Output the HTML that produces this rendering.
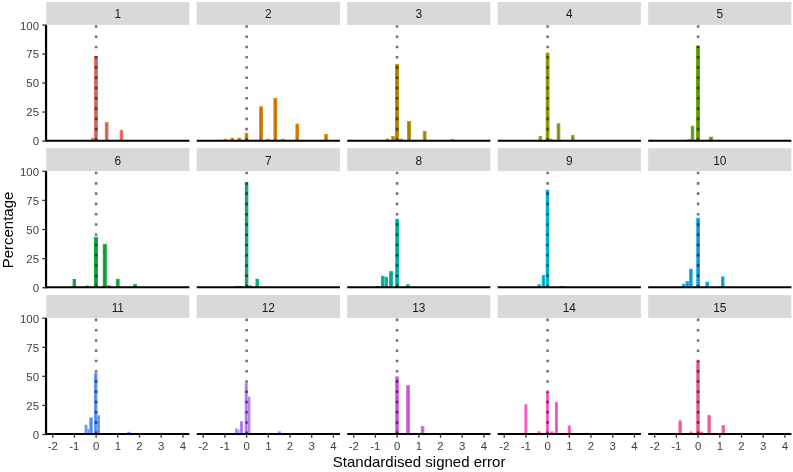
<!DOCTYPE html><html><head><meta charset="utf-8"><style>html,body{margin:0;padding:0;background:#fff;}svg{display:block;}text{font-family:"Liberation Sans",Arial,sans-serif;}</style></head><body>
<svg width="793" height="472" viewBox="0 0 793 472">
<rect x="0" y="0" width="793" height="472" fill="#fff"/>
<rect x="46.2" y="2" width="143.2" height="22.9" fill="#D9D9D9"/>
<text x="117.8" y="18.05" font-size="11.9" fill="#1A1A1A" text-anchor="middle">1</text>
<rect x="91.64" y="138.39" width="1.72" height="2.26" fill="#A16662" stroke="#F8766D" stroke-width="1.28"/>
<rect x="94.64" y="56.64" width="2.72" height="84.01" fill="#A16662" stroke="#F8766D" stroke-width="1.28"/>
<rect x="105.44" y="122.64" width="2.52" height="18.01" fill="#A16662" stroke="#F8766D" stroke-width="1.28"/>
<rect x="120.29" y="130.52" width="2.22" height="10.13" fill="#A16662" stroke="#F8766D" stroke-width="1.28"/>
<line x1="96.1" y1="140.65" x2="96.1" y2="24.9" stroke="#000" stroke-opacity="0.55" stroke-width="2.56" stroke-dasharray="2.56 7.71" stroke-dashoffset="0.04"/>
<line x1="46.2" y1="140.65" x2="189.4" y2="140.65" stroke="#000" stroke-width="2.0"/>
<line x1="46.05" y1="24.9" x2="46.05" y2="141.65" stroke="#000" stroke-width="2.2"/>
<line x1="42.3" y1="141.05" x2="46.2" y2="141.05" stroke="#333" stroke-width="1.3"/>
<text x="39" y="145.45" font-size="11.4" fill="#404040" text-anchor="end">0</text>
<line x1="42.3" y1="112.06" x2="46.2" y2="112.06" stroke="#333" stroke-width="1.3"/>
<text x="39" y="116.46" font-size="11.4" fill="#404040" text-anchor="end">25</text>
<line x1="42.3" y1="83.08" x2="46.2" y2="83.08" stroke="#333" stroke-width="1.3"/>
<text x="39" y="87.48" font-size="11.4" fill="#404040" text-anchor="end">50</text>
<line x1="42.3" y1="54.09" x2="46.2" y2="54.09" stroke="#333" stroke-width="1.3"/>
<text x="39" y="58.49" font-size="11.4" fill="#404040" text-anchor="end">75</text>
<line x1="42.3" y1="25.1" x2="46.2" y2="25.1" stroke="#333" stroke-width="1.3"/>
<text x="39" y="29.5" font-size="11.4" fill="#404040" text-anchor="end">100</text>
<rect x="196.7" y="2" width="143.2" height="22.9" fill="#D9D9D9"/>
<text x="268.3" y="18.05" font-size="11.9" fill="#1A1A1A" text-anchor="middle">2</text>
<rect x="224.34" y="139.55" width="2.12" height="1.1" fill="#986E31" stroke="#E58700" stroke-width="1.28"/>
<rect x="231.09" y="138.39" width="2.22" height="2.26" fill="#986E31" stroke="#E58700" stroke-width="1.28"/>
<rect x="238.09" y="138.39" width="2.22" height="2.26" fill="#986E31" stroke="#E58700" stroke-width="1.28"/>
<rect x="245.34" y="133.41" width="2.32" height="7.24" fill="#986E31" stroke="#E58700" stroke-width="1.28"/>
<rect x="259.74" y="107.01" width="2.52" height="33.64" fill="#986E31" stroke="#E58700" stroke-width="1.28"/>
<rect x="266.89" y="139.43" width="2.22" height="1.22" fill="#986E31" stroke="#E58700" stroke-width="1.28"/>
<rect x="274.04" y="98.67" width="2.52" height="41.98" fill="#986E31" stroke="#E58700" stroke-width="1.28"/>
<rect x="281.89" y="139.43" width="2.22" height="1.22" fill="#986E31" stroke="#E58700" stroke-width="1.28"/>
<rect x="296.04" y="124.26" width="2.32" height="16.39" fill="#986E31" stroke="#E58700" stroke-width="1.28"/>
<rect x="324.84" y="134.69" width="2.32" height="5.96" fill="#986E31" stroke="#E58700" stroke-width="1.28"/>
<line x1="246.6" y1="140.65" x2="246.6" y2="24.9" stroke="#000" stroke-opacity="0.55" stroke-width="2.56" stroke-dasharray="2.56 7.71" stroke-dashoffset="0.04"/>
<line x1="196.7" y1="140.65" x2="339.9" y2="140.65" stroke="#000" stroke-width="2.0"/>
<rect x="347.2" y="2" width="143.2" height="22.9" fill="#D9D9D9"/>
<text x="418.8" y="18.05" font-size="11.9" fill="#1A1A1A" text-anchor="middle">3</text>
<rect x="386.39" y="139.32" width="2.22" height="1.33" fill="#8B7531" stroke="#C99800" stroke-width="1.28"/>
<rect x="391.84" y="136.66" width="2.32" height="3.99" fill="#8B7531" stroke="#C99800" stroke-width="1.28"/>
<rect x="395.64" y="64.51" width="2.72" height="76.14" fill="#8B7531" stroke="#C99800" stroke-width="1.28"/>
<rect x="399.89" y="139.32" width="2.22" height="1.33" fill="#8B7531" stroke="#C99800" stroke-width="1.28"/>
<rect x="407.64" y="121.72" width="2.72" height="18.93" fill="#8B7531" stroke="#C99800" stroke-width="1.28"/>
<rect x="423.44" y="131.56" width="2.52" height="9.09" fill="#8B7531" stroke="#C99800" stroke-width="1.28"/>
<rect x="451.34" y="139.78" width="2.12" height="0.87" fill="#8B7531" stroke="#C99800" stroke-width="1.28"/>
<line x1="397.1" y1="140.65" x2="397.1" y2="24.9" stroke="#000" stroke-opacity="0.55" stroke-width="2.56" stroke-dasharray="2.56 7.71" stroke-dashoffset="0.04"/>
<line x1="347.2" y1="140.65" x2="490.4" y2="140.65" stroke="#000" stroke-width="2.0"/>
<rect x="497.7" y="2" width="143.2" height="22.9" fill="#D9D9D9"/>
<text x="569.3" y="18.05" font-size="11.9" fill="#1A1A1A" text-anchor="middle">4</text>
<rect x="539.24" y="136.66" width="2.12" height="3.99" fill="#7A7B31" stroke="#A3A500" stroke-width="1.28"/>
<rect x="546.34" y="53.28" width="2.52" height="87.37" fill="#7A7B31" stroke="#A3A500" stroke-width="1.28"/>
<rect x="550.14" y="139.32" width="1.72" height="1.33" fill="#7A7B31" stroke="#A3A500" stroke-width="1.28"/>
<rect x="557.34" y="123.92" width="2.32" height="16.73" fill="#7A7B31" stroke="#A3A500" stroke-width="1.28"/>
<rect x="571.59" y="135.73" width="2.42" height="4.92" fill="#7A7B31" stroke="#A3A500" stroke-width="1.28"/>
<line x1="547.6" y1="140.65" x2="547.6" y2="24.9" stroke="#000" stroke-opacity="0.55" stroke-width="2.56" stroke-dasharray="2.56 7.71" stroke-dashoffset="0.04"/>
<line x1="497.7" y1="140.65" x2="640.9" y2="140.65" stroke="#000" stroke-width="2.0"/>
<rect x="648.2" y="2" width="143.2" height="22.9" fill="#D9D9D9"/>
<text x="719.8" y="18.05" font-size="11.9" fill="#1A1A1A" text-anchor="middle">5</text>
<rect x="688.14" y="139.78" width="1.72" height="0.87" fill="#618131" stroke="#6BB100" stroke-width="1.28"/>
<rect x="691.44" y="126.47" width="2.12" height="14.18" fill="#618131" stroke="#6BB100" stroke-width="1.28"/>
<rect x="696.64" y="46.33" width="2.72" height="94.32" fill="#618131" stroke="#6BB100" stroke-width="1.28"/>
<rect x="709.64" y="137.35" width="2.72" height="3.3" fill="#618131" stroke="#6BB100" stroke-width="1.28"/>
<line x1="698.1" y1="140.65" x2="698.1" y2="24.9" stroke="#000" stroke-opacity="0.55" stroke-width="2.56" stroke-dasharray="2.56 7.71" stroke-dashoffset="0.04"/>
<line x1="648.2" y1="140.65" x2="791.4" y2="140.65" stroke="#000" stroke-width="2.0"/>
<rect x="46.2" y="148.2" width="143.2" height="22.9" fill="#D9D9D9"/>
<text x="117.8" y="164.75" font-size="11.9" fill="#1A1A1A" text-anchor="middle">6</text>
<rect x="73.24" y="279.63" width="2.12" height="7.67" fill="#31854A" stroke="#00BA38" stroke-width="1.28"/>
<rect x="85.94" y="286.23" width="2.12" height="1.07" fill="#31854A" stroke="#00BA38" stroke-width="1.28"/>
<rect x="94.64" y="237.6" width="2.72" height="49.7" fill="#31854A" stroke="#00BA38" stroke-width="1.28"/>
<rect x="103.44" y="244.55" width="2.72" height="42.75" fill="#31854A" stroke="#00BA38" stroke-width="1.28"/>
<rect x="107.94" y="286" width="2.12" height="1.3" fill="#31854A" stroke="#00BA38" stroke-width="1.28"/>
<rect x="116.64" y="279.52" width="2.32" height="7.78" fill="#31854A" stroke="#00BA38" stroke-width="1.28"/>
<rect x="133.84" y="284.73" width="2.32" height="2.57" fill="#31854A" stroke="#00BA38" stroke-width="1.28"/>
<line x1="96.1" y1="287.3" x2="96.1" y2="171.1" stroke="#000" stroke-opacity="0.55" stroke-width="2.56" stroke-dasharray="2.56 7.71" stroke-dashoffset="0.04"/>
<line x1="46.2" y1="287.3" x2="189.4" y2="287.3" stroke="#000" stroke-width="2.0"/>
<line x1="46.05" y1="171.1" x2="46.05" y2="288.3" stroke="#000" stroke-width="2.2"/>
<line x1="42.3" y1="287.7" x2="46.2" y2="287.7" stroke="#333" stroke-width="1.3"/>
<text x="39" y="292.1" font-size="11.4" fill="#404040" text-anchor="end">0</text>
<line x1="42.3" y1="258.6" x2="46.2" y2="258.6" stroke="#333" stroke-width="1.3"/>
<text x="39" y="263" font-size="11.4" fill="#404040" text-anchor="end">25</text>
<line x1="42.3" y1="229.5" x2="46.2" y2="229.5" stroke="#333" stroke-width="1.3"/>
<text x="39" y="233.9" font-size="11.4" fill="#404040" text-anchor="end">50</text>
<line x1="42.3" y1="200.4" x2="46.2" y2="200.4" stroke="#333" stroke-width="1.3"/>
<text x="39" y="204.8" font-size="11.4" fill="#404040" text-anchor="end">75</text>
<line x1="42.3" y1="171.3" x2="46.2" y2="171.3" stroke="#333" stroke-width="1.3"/>
<text x="39" y="175.7" font-size="11.4" fill="#404040" text-anchor="end">100</text>
<rect x="196.7" y="148.2" width="143.2" height="22.9" fill="#D9D9D9"/>
<text x="268.3" y="164.75" font-size="11.9" fill="#1A1A1A" text-anchor="middle">7</text>
<rect x="235.64" y="286.58" width="1.72" height="0.72" fill="#318769" stroke="#00BF7D" stroke-width="1.28"/>
<rect x="238.64" y="286.58" width="1.72" height="0.72" fill="#318769" stroke="#00BF7D" stroke-width="1.28"/>
<rect x="245.49" y="183.06" width="2.22" height="104.24" fill="#318769" stroke="#00BF7D" stroke-width="1.28"/>
<rect x="248.94" y="286" width="2.12" height="1.3" fill="#318769" stroke="#00BF7D" stroke-width="1.28"/>
<rect x="256.09" y="279.4" width="2.22" height="7.9" fill="#318769" stroke="#00BF7D" stroke-width="1.28"/>
<line x1="246.6" y1="287.3" x2="246.6" y2="171.1" stroke="#000" stroke-opacity="0.55" stroke-width="2.56" stroke-dasharray="2.56 7.71" stroke-dashoffset="0.04"/>
<line x1="196.7" y1="287.3" x2="339.9" y2="287.3" stroke="#000" stroke-width="2.0"/>
<rect x="347.2" y="148.2" width="143.2" height="22.9" fill="#D9D9D9"/>
<text x="418.8" y="164.75" font-size="11.9" fill="#1A1A1A" text-anchor="middle">8</text>
<rect x="376.64" y="286.58" width="1.72" height="0.72" fill="#318780" stroke="#00C0AF" stroke-width="1.28"/>
<rect x="381.69" y="276.39" width="2.22" height="10.91" fill="#318780" stroke="#00C0AF" stroke-width="1.28"/>
<rect x="385.29" y="277.43" width="2.02" height="9.87" fill="#318780" stroke="#00C0AF" stroke-width="1.28"/>
<rect x="389.64" y="271.76" width="2.72" height="15.54" fill="#318780" stroke="#00C0AF" stroke-width="1.28"/>
<rect x="395.84" y="219.53" width="2.52" height="67.77" fill="#318780" stroke="#00C0AF" stroke-width="1.28"/>
<rect x="406.74" y="284.85" width="2.32" height="2.45" fill="#318780" stroke="#00C0AF" stroke-width="1.28"/>
<line x1="397.1" y1="287.3" x2="397.1" y2="171.1" stroke="#000" stroke-opacity="0.55" stroke-width="2.56" stroke-dasharray="2.56 7.71" stroke-dashoffset="0.04"/>
<line x1="347.2" y1="287.3" x2="490.4" y2="287.3" stroke="#000" stroke-width="2.0"/>
<rect x="497.7" y="148.2" width="143.2" height="22.9" fill="#D9D9D9"/>
<text x="569.3" y="164.75" font-size="11.9" fill="#1A1A1A" text-anchor="middle">9</text>
<rect x="538.09" y="284.85" width="2.02" height="2.45" fill="#318692" stroke="#00BCD8" stroke-width="1.28"/>
<rect x="542.44" y="275.58" width="2.12" height="11.72" fill="#318692" stroke="#00BCD8" stroke-width="1.28"/>
<rect x="546.44" y="190.24" width="2.12" height="97.06" fill="#318692" stroke="#00BCD8" stroke-width="1.28"/>
<rect x="560.74" y="286.58" width="2.12" height="0.72" fill="#318692" stroke="#00BCD8" stroke-width="1.28"/>
<line x1="547.6" y1="287.3" x2="547.6" y2="171.1" stroke="#000" stroke-opacity="0.55" stroke-width="2.56" stroke-dasharray="2.56 7.71" stroke-dashoffset="0.04"/>
<line x1="497.7" y1="287.3" x2="640.9" y2="287.3" stroke="#000" stroke-width="2.0"/>
<rect x="648.2" y="148.2" width="143.2" height="22.9" fill="#D9D9D9"/>
<text x="719.8" y="164.75" font-size="11.9" fill="#1A1A1A" text-anchor="middle">10</text>
<rect x="682.74" y="284.5" width="1.92" height="2.8" fill="#3180A0" stroke="#00B0F6" stroke-width="1.28"/>
<rect x="686.14" y="281.83" width="2.12" height="5.47" fill="#3180A0" stroke="#00B0F6" stroke-width="1.28"/>
<rect x="689.79" y="269.44" width="2.22" height="17.86" fill="#3180A0" stroke="#00B0F6" stroke-width="1.28"/>
<rect x="696.89" y="218.49" width="2.42" height="68.81" fill="#3180A0" stroke="#00B0F6" stroke-width="1.28"/>
<rect x="706.04" y="282.41" width="2.32" height="4.89" fill="#3180A0" stroke="#00B0F6" stroke-width="1.28"/>
<rect x="721.74" y="277.09" width="2.12" height="10.21" fill="#3180A0" stroke="#00B0F6" stroke-width="1.28"/>
<line x1="698.1" y1="287.3" x2="698.1" y2="171.1" stroke="#000" stroke-opacity="0.55" stroke-width="2.56" stroke-dasharray="2.56 7.71" stroke-dashoffset="0.04"/>
<line x1="648.2" y1="287.3" x2="791.4" y2="287.3" stroke="#000" stroke-width="2.0"/>
<rect x="46.2" y="295.2" width="143.2" height="22.8" fill="#D9D9D9"/>
<text x="117.8" y="311.7" font-size="11.9" fill="#1A1A1A" text-anchor="middle">11</text>
<rect x="85.24" y="425.39" width="1.52" height="8.71" fill="#5D77A4" stroke="#619CFF" stroke-width="1.28"/>
<rect x="88.04" y="429.68" width="0.52" height="4.42" fill="#5D77A4" stroke="#619CFF" stroke-width="1.28"/>
<rect x="89.89" y="418.1" width="2.22" height="16" fill="#5D77A4" stroke="#619CFF" stroke-width="1.28"/>
<rect x="94.74" y="373.4" width="2.12" height="60.7" fill="#5D77A4" stroke="#619CFF" stroke-width="1.28"/>
<rect x="97.89" y="415.9" width="1.42" height="18.2" fill="#5D77A4" stroke="#619CFF" stroke-width="1.28"/>
<rect x="127.84" y="432.46" width="1.92" height="1.64" fill="#5D77A4" stroke="#619CFF" stroke-width="1.28"/>
<line x1="96.1" y1="434.1" x2="96.1" y2="318" stroke="#000" stroke-opacity="0.55" stroke-width="2.56" stroke-dasharray="2.56 7.71" stroke-dashoffset="0.04"/>
<line x1="46.2" y1="434.1" x2="189.4" y2="434.1" stroke="#000" stroke-width="2.0"/>
<line x1="46.05" y1="318" x2="46.05" y2="435.1" stroke="#000" stroke-width="2.2"/>
<line x1="42.3" y1="434.5" x2="46.2" y2="434.5" stroke="#333" stroke-width="1.3"/>
<text x="39" y="438.9" font-size="11.4" fill="#404040" text-anchor="end">0</text>
<line x1="42.3" y1="405.43" x2="46.2" y2="405.43" stroke="#333" stroke-width="1.3"/>
<text x="39" y="409.82" font-size="11.4" fill="#404040" text-anchor="end">25</text>
<line x1="42.3" y1="376.35" x2="46.2" y2="376.35" stroke="#333" stroke-width="1.3"/>
<text x="39" y="380.75" font-size="11.4" fill="#404040" text-anchor="end">50</text>
<line x1="42.3" y1="347.27" x2="46.2" y2="347.27" stroke="#333" stroke-width="1.3"/>
<text x="39" y="351.67" font-size="11.4" fill="#404040" text-anchor="end">75</text>
<line x1="42.3" y1="318.2" x2="46.2" y2="318.2" stroke="#333" stroke-width="1.3"/>
<text x="39" y="322.6" font-size="11.4" fill="#404040" text-anchor="end">100</text>
<line x1="52.7" y1="434.1" x2="52.7" y2="437.7" stroke="#333" stroke-width="1.3"/>
<text x="52.7" y="449.7" font-size="11.4" fill="#404040" text-anchor="middle">-2</text>
<line x1="74.4" y1="434.1" x2="74.4" y2="437.7" stroke="#333" stroke-width="1.3"/>
<text x="74.4" y="449.7" font-size="11.4" fill="#404040" text-anchor="middle">-1</text>
<line x1="96.1" y1="434.1" x2="96.1" y2="437.7" stroke="#333" stroke-width="1.3"/>
<text x="96.1" y="449.7" font-size="11.4" fill="#404040" text-anchor="middle">0</text>
<line x1="117.8" y1="434.1" x2="117.8" y2="437.7" stroke="#333" stroke-width="1.3"/>
<text x="117.8" y="449.7" font-size="11.4" fill="#404040" text-anchor="middle">1</text>
<line x1="139.5" y1="434.1" x2="139.5" y2="437.7" stroke="#333" stroke-width="1.3"/>
<text x="139.5" y="449.7" font-size="11.4" fill="#404040" text-anchor="middle">2</text>
<line x1="161.2" y1="434.1" x2="161.2" y2="437.7" stroke="#333" stroke-width="1.3"/>
<text x="161.2" y="449.7" font-size="11.4" fill="#404040" text-anchor="middle">3</text>
<line x1="182.9" y1="434.1" x2="182.9" y2="437.7" stroke="#333" stroke-width="1.3"/>
<text x="182.9" y="449.7" font-size="11.4" fill="#404040" text-anchor="middle">4</text>
<rect x="196.7" y="295.2" width="143.2" height="22.8" fill="#D9D9D9"/>
<text x="268.3" y="311.7" font-size="11.9" fill="#1A1A1A" text-anchor="middle">12</text>
<rect x="235.74" y="428.98" width="0.92" height="5.12" fill="#846CA4" stroke="#B983FF" stroke-width="1.28"/>
<rect x="237.94" y="430.14" width="0.92" height="3.96" fill="#846CA4" stroke="#B983FF" stroke-width="1.28"/>
<rect x="240.64" y="421.8" width="1.72" height="12.3" fill="#846CA4" stroke="#B983FF" stroke-width="1.28"/>
<rect x="245.34" y="383.59" width="1.72" height="50.51" fill="#846CA4" stroke="#B983FF" stroke-width="1.28"/>
<rect x="248.44" y="397.25" width="1.32" height="36.85" fill="#846CA4" stroke="#B983FF" stroke-width="1.28"/>
<rect x="278.54" y="431.99" width="1.72" height="2.11" fill="#846CA4" stroke="#B983FF" stroke-width="1.28"/>
<line x1="246.6" y1="434.1" x2="246.6" y2="318" stroke="#000" stroke-opacity="0.55" stroke-width="2.56" stroke-dasharray="2.56 7.71" stroke-dashoffset="0.04"/>
<line x1="196.7" y1="434.1" x2="339.9" y2="434.1" stroke="#000" stroke-width="2.0"/>
<line x1="203.2" y1="434.1" x2="203.2" y2="437.7" stroke="#333" stroke-width="1.3"/>
<text x="203.2" y="449.7" font-size="11.4" fill="#404040" text-anchor="middle">-2</text>
<line x1="224.9" y1="434.1" x2="224.9" y2="437.7" stroke="#333" stroke-width="1.3"/>
<text x="224.9" y="449.7" font-size="11.4" fill="#404040" text-anchor="middle">-1</text>
<line x1="246.6" y1="434.1" x2="246.6" y2="437.7" stroke="#333" stroke-width="1.3"/>
<text x="246.6" y="449.7" font-size="11.4" fill="#404040" text-anchor="middle">0</text>
<line x1="268.3" y1="434.1" x2="268.3" y2="437.7" stroke="#333" stroke-width="1.3"/>
<text x="268.3" y="449.7" font-size="11.4" fill="#404040" text-anchor="middle">1</text>
<line x1="290" y1="434.1" x2="290" y2="437.7" stroke="#333" stroke-width="1.3"/>
<text x="290" y="449.7" font-size="11.4" fill="#404040" text-anchor="middle">2</text>
<line x1="311.7" y1="434.1" x2="311.7" y2="437.7" stroke="#333" stroke-width="1.3"/>
<text x="311.7" y="449.7" font-size="11.4" fill="#404040" text-anchor="middle">3</text>
<line x1="333.4" y1="434.1" x2="333.4" y2="437.7" stroke="#333" stroke-width="1.3"/>
<text x="333.4" y="449.7" font-size="11.4" fill="#404040" text-anchor="middle">4</text>
<rect x="347.2" y="295.2" width="143.2" height="22.8" fill="#D9D9D9"/>
<text x="418.8" y="311.7" font-size="11.9" fill="#1A1A1A" text-anchor="middle">13</text>
<rect x="395.64" y="376.99" width="2.72" height="57.11" fill="#99619E" stroke="#E76BF3" stroke-width="1.28"/>
<rect x="399.94" y="433.5" width="2.12" height="0.6" fill="#99619E" stroke="#E76BF3" stroke-width="1.28"/>
<rect x="406.74" y="385.67" width="2.72" height="48.43" fill="#99619E" stroke="#E76BF3" stroke-width="1.28"/>
<rect x="412.94" y="433.5" width="2.12" height="0.6" fill="#99619E" stroke="#E76BF3" stroke-width="1.28"/>
<rect x="421.44" y="426.67" width="2.32" height="7.43" fill="#99619E" stroke="#E76BF3" stroke-width="1.28"/>
<line x1="397.1" y1="434.1" x2="397.1" y2="318" stroke="#000" stroke-opacity="0.55" stroke-width="2.56" stroke-dasharray="2.56 7.71" stroke-dashoffset="0.04"/>
<line x1="347.2" y1="434.1" x2="490.4" y2="434.1" stroke="#000" stroke-width="2.0"/>
<line x1="353.7" y1="434.1" x2="353.7" y2="437.7" stroke="#333" stroke-width="1.3"/>
<text x="353.7" y="449.7" font-size="11.4" fill="#404040" text-anchor="middle">-2</text>
<line x1="375.4" y1="434.1" x2="375.4" y2="437.7" stroke="#333" stroke-width="1.3"/>
<text x="375.4" y="449.7" font-size="11.4" fill="#404040" text-anchor="middle">-1</text>
<line x1="397.1" y1="434.1" x2="397.1" y2="437.7" stroke="#333" stroke-width="1.3"/>
<text x="397.1" y="449.7" font-size="11.4" fill="#404040" text-anchor="middle">0</text>
<line x1="418.8" y1="434.1" x2="418.8" y2="437.7" stroke="#333" stroke-width="1.3"/>
<text x="418.8" y="449.7" font-size="11.4" fill="#404040" text-anchor="middle">1</text>
<line x1="440.5" y1="434.1" x2="440.5" y2="437.7" stroke="#333" stroke-width="1.3"/>
<text x="440.5" y="449.7" font-size="11.4" fill="#404040" text-anchor="middle">2</text>
<line x1="462.2" y1="434.1" x2="462.2" y2="437.7" stroke="#333" stroke-width="1.3"/>
<text x="462.2" y="449.7" font-size="11.4" fill="#404040" text-anchor="middle">3</text>
<line x1="483.9" y1="434.1" x2="483.9" y2="437.7" stroke="#333" stroke-width="1.3"/>
<text x="483.9" y="449.7" font-size="11.4" fill="#404040" text-anchor="middle">4</text>
<rect x="497.7" y="295.2" width="143.2" height="22.8" fill="#D9D9D9"/>
<text x="569.3" y="311.7" font-size="11.9" fill="#1A1A1A" text-anchor="middle">14</text>
<rect x="525.04" y="404.9" width="1.72" height="29.2" fill="#A35D8F" stroke="#FD61D1" stroke-width="1.28"/>
<rect x="538.04" y="431.99" width="1.92" height="2.11" fill="#A35D8F" stroke="#FD61D1" stroke-width="1.28"/>
<rect x="546.54" y="392.39" width="1.72" height="41.71" fill="#A35D8F" stroke="#FD61D1" stroke-width="1.28"/>
<rect x="550.74" y="431.99" width="2.12" height="2.11" fill="#A35D8F" stroke="#FD61D1" stroke-width="1.28"/>
<rect x="555.54" y="402.69" width="1.72" height="31.41" fill="#A35D8F" stroke="#FD61D1" stroke-width="1.28"/>
<rect x="568.44" y="425.97" width="1.72" height="8.13" fill="#A35D8F" stroke="#FD61D1" stroke-width="1.28"/>
<rect x="586.14" y="433.38" width="1.72" height="0.72" fill="#A35D8F" stroke="#FD61D1" stroke-width="1.28"/>
<line x1="547.6" y1="434.1" x2="547.6" y2="318" stroke="#000" stroke-opacity="0.55" stroke-width="2.56" stroke-dasharray="2.56 7.71" stroke-dashoffset="0.04"/>
<line x1="497.7" y1="434.1" x2="640.9" y2="434.1" stroke="#000" stroke-width="2.0"/>
<line x1="504.2" y1="434.1" x2="504.2" y2="437.7" stroke="#333" stroke-width="1.3"/>
<text x="504.2" y="449.7" font-size="11.4" fill="#404040" text-anchor="middle">-2</text>
<line x1="525.9" y1="434.1" x2="525.9" y2="437.7" stroke="#333" stroke-width="1.3"/>
<text x="525.9" y="449.7" font-size="11.4" fill="#404040" text-anchor="middle">-1</text>
<line x1="547.6" y1="434.1" x2="547.6" y2="437.7" stroke="#333" stroke-width="1.3"/>
<text x="547.6" y="449.7" font-size="11.4" fill="#404040" text-anchor="middle">0</text>
<line x1="569.3" y1="434.1" x2="569.3" y2="437.7" stroke="#333" stroke-width="1.3"/>
<text x="569.3" y="449.7" font-size="11.4" fill="#404040" text-anchor="middle">1</text>
<line x1="591" y1="434.1" x2="591" y2="437.7" stroke="#333" stroke-width="1.3"/>
<text x="591" y="449.7" font-size="11.4" fill="#404040" text-anchor="middle">2</text>
<line x1="612.7" y1="434.1" x2="612.7" y2="437.7" stroke="#333" stroke-width="1.3"/>
<text x="612.7" y="449.7" font-size="11.4" fill="#404040" text-anchor="middle">3</text>
<line x1="634.4" y1="434.1" x2="634.4" y2="437.7" stroke="#333" stroke-width="1.3"/>
<text x="634.4" y="449.7" font-size="11.4" fill="#404040" text-anchor="middle">4</text>
<rect x="648.2" y="295.2" width="143.2" height="22.8" fill="#D9D9D9"/>
<text x="719.8" y="311.7" font-size="11.9" fill="#1A1A1A" text-anchor="middle">15</text>
<rect x="679.04" y="420.99" width="2.12" height="13.11" fill="#A45F7B" stroke="#FF67A4" stroke-width="1.28"/>
<rect x="689.94" y="432.22" width="1.92" height="1.88" fill="#A45F7B" stroke="#FF67A4" stroke-width="1.28"/>
<rect x="696.84" y="361.24" width="2.32" height="72.86" fill="#A45F7B" stroke="#FF67A4" stroke-width="1.28"/>
<rect x="700.54" y="432.22" width="1.92" height="1.88" fill="#A45F7B" stroke="#FF67A4" stroke-width="1.28"/>
<rect x="708.04" y="415.66" width="2.12" height="18.44" fill="#A45F7B" stroke="#FF67A4" stroke-width="1.28"/>
<rect x="722.14" y="425.74" width="2.12" height="8.36" fill="#A45F7B" stroke="#FF67A4" stroke-width="1.28"/>
<line x1="698.1" y1="434.1" x2="698.1" y2="318" stroke="#000" stroke-opacity="0.55" stroke-width="2.56" stroke-dasharray="2.56 7.71" stroke-dashoffset="0.04"/>
<line x1="648.2" y1="434.1" x2="791.4" y2="434.1" stroke="#000" stroke-width="2.0"/>
<line x1="654.7" y1="434.1" x2="654.7" y2="437.7" stroke="#333" stroke-width="1.3"/>
<text x="654.7" y="449.7" font-size="11.4" fill="#404040" text-anchor="middle">-2</text>
<line x1="676.4" y1="434.1" x2="676.4" y2="437.7" stroke="#333" stroke-width="1.3"/>
<text x="676.4" y="449.7" font-size="11.4" fill="#404040" text-anchor="middle">-1</text>
<line x1="698.1" y1="434.1" x2="698.1" y2="437.7" stroke="#333" stroke-width="1.3"/>
<text x="698.1" y="449.7" font-size="11.4" fill="#404040" text-anchor="middle">0</text>
<line x1="719.8" y1="434.1" x2="719.8" y2="437.7" stroke="#333" stroke-width="1.3"/>
<text x="719.8" y="449.7" font-size="11.4" fill="#404040" text-anchor="middle">1</text>
<line x1="741.5" y1="434.1" x2="741.5" y2="437.7" stroke="#333" stroke-width="1.3"/>
<text x="741.5" y="449.7" font-size="11.4" fill="#404040" text-anchor="middle">2</text>
<line x1="763.2" y1="434.1" x2="763.2" y2="437.7" stroke="#333" stroke-width="1.3"/>
<text x="763.2" y="449.7" font-size="11.4" fill="#404040" text-anchor="middle">3</text>
<line x1="784.9" y1="434.1" x2="784.9" y2="437.7" stroke="#333" stroke-width="1.3"/>
<text x="784.9" y="449.7" font-size="11.4" fill="#404040" text-anchor="middle">4</text>
<text x="419.1" y="467" font-size="15" fill="#000" text-anchor="middle">Standardised signed error</text>
<text transform="translate(13.4,230.0) rotate(-90)" x="0" y="0" font-size="15" fill="#000" text-anchor="middle">Percentage</text>
</svg></body></html>
